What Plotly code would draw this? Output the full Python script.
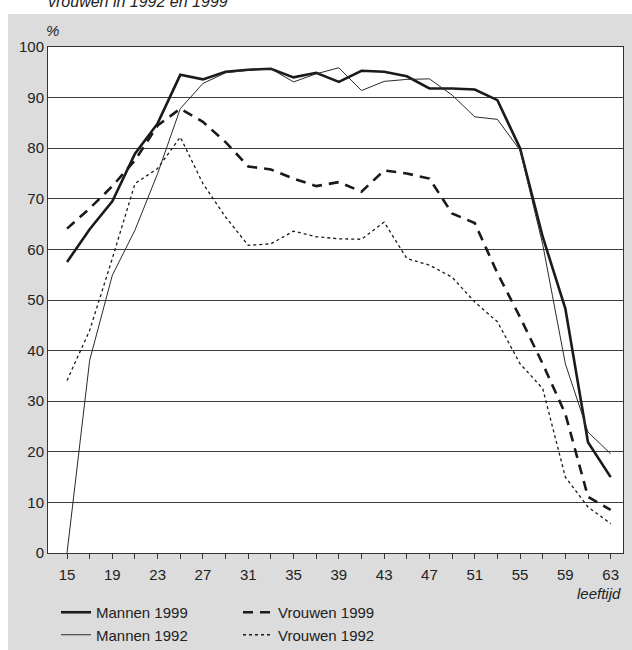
import plotly.graph_objects as go

ages = list(range(15, 64, 2))

mannen_1999 = [57.5, 64.0, 69.5, 78.9, 84.9, 94.5, 93.6, 95.1, 95.5, 95.7, 94.0, 94.9, 93.1,
               95.3, 95.1, 94.2, 91.8, 91.8, 91.6, 89.5, 80.0, 62.5, 48.3, 21.9, 15.0]
mannen_1992 = [0.0, 38.1, 54.9, 63.8, 75.0, 87.8, 92.8, 94.9, 95.4, 95.7, 93.1, 94.7, 95.9,
               91.4, 93.2, 93.6, 93.7, 90.5, 86.2, 85.7, 79.6, 61.0, 37.4, 23.9, 19.6]
vrouwen_1999 = [64.1, 68.1, 72.5, 77.6, 84.5, 87.8, 85.2, 81.2, 76.4, 75.8, 74.0, 72.5, 73.3,
                71.4, 75.6, 75.0, 74.0, 67.1, 65.2, 55.3, 46.6, 37.4, 27.5, 11.1, 8.5]
vrouwen_1992 = [34.1, 44.0, 58.2, 73.0, 76.0, 82.2, 73.0, 66.4, 60.8, 61.1, 63.6, 62.5, 62.1,
                62.0, 65.4, 58.2, 56.9, 54.5, 49.6, 45.7, 37.4, 32.5, 15.0, 9.1, 5.8]

x_tickvals = list(range(15, 64, 4))
y_tickvals = list(range(0, 101, 10))

FONT = "Liberation Sans, Arial, sans-serif"
INK = "#1a1a1a"

fig = go.Figure()
fig.add_trace(go.Scatter(x=ages, y=mannen_1999, mode="lines", name="Mannen 1999",
                         line=dict(color=INK, width=2.6), legend="legend"))
fig.add_trace(go.Scatter(x=ages, y=mannen_1992, mode="lines", name="Mannen 1992",
                         line=dict(color="#2a2a2a", width=1), legend="legend"))
fig.add_trace(go.Scatter(x=ages, y=vrouwen_1999, mode="lines", name="Vrouwen 1999",
                         line=dict(color=INK, width=2.6, dash="10px,7px"), legend="legend2"))
fig.add_trace(go.Scatter(x=ages, y=vrouwen_1992, mode="lines", name="Vrouwen 1992",
                         line=dict(color=INK, width=1.3, dash="3px,3px"), legend="legend2"))

L, R, T, B = 48, 9, 47, 97
W, H = 632, 650
pw, ph = W - L - R, H - T - B

def px_x(p):
    return (p - L) / pw

def px_y(p):
    return 1 - (p - T) / ph

legend_style = dict(xanchor="left", yanchor="top", y=px_y(596),
                    bgcolor="rgba(0,0,0,0)", font=dict(size=15, color="#222"),
                    tracegroupgap=0)

fig.update_layout(
    width=W, height=H,
    margin=dict(l=L, r=R, t=T, b=B, autoexpand=False),
    paper_bgcolor="#dcdcdc",
    plot_bgcolor="white",
    font=dict(family=FONT, size=15, color="#222"),
    showlegend=True,
    legend=dict(x=px_x(56), **legend_style),
    legend2=dict(x=px_x(238), **legend_style),
    xaxis=dict(range=[13.32, 64.09], tickvals=x_tickvals, ticks="outside", ticklen=5,
               tickcolor="#333", showgrid=False, zeroline=False,
               showline=True, linecolor="#333", linewidth=1, mirror=True,
               ticklabelstandoff=3,
               minor=dict(dtick=2, tick0=15, ticks="outside", ticklen=5, tickcolor="#333",
                          showgrid=False),
               tickfont=dict(size=15, color="#222")),
    yaxis=dict(range=[0, 100], tickvals=y_tickvals, ticks="", showgrid=True,
               gridcolor="#3c3c3c", gridwidth=1, zeroline=False,
               showline=True, linecolor="#333", linewidth=1, mirror=True,
               tickfont=dict(size=15, color="#222")),
    shapes=[
        dict(type="rect", xref="paper", yref="paper", x0=-1, x1=2,
             y0=px_y(14), y1=px_y(-20), fillcolor="white", line=dict(width=0)),
        dict(type="rect", xref="paper", yref="paper", x0=-1, x1=px_x(8),
             y0=-1, y1=2, fillcolor="white", line=dict(width=0)),
    ],
    annotations=[
        dict(text="<i>vrouwen in 1992 en 1999</i>", xref="paper", yref="paper",
             x=px_x(46), y=px_y(1), xanchor="left", yanchor="middle", showarrow=False,
             font=dict(size=16, color="#222")),
        dict(text="<i>%</i>", xref="paper", yref="paper", x=px_x(52), y=px_y(31),
             xanchor="center", yanchor="middle", showarrow=False,
             font=dict(size=15, color="#222")),
        dict(text="<i>leeftijd</i>", xref="paper", yref="paper", x=1, y=px_y(593),
             xanchor="right", yanchor="middle", showarrow=False,
             font=dict(size=15, color="#222")),
    ],
)

fig.write_html("out.html",
               config={"displayModeBar": False},
               post_script="document.body.style.margin='0';document.body.style.overflow='hidden';")
